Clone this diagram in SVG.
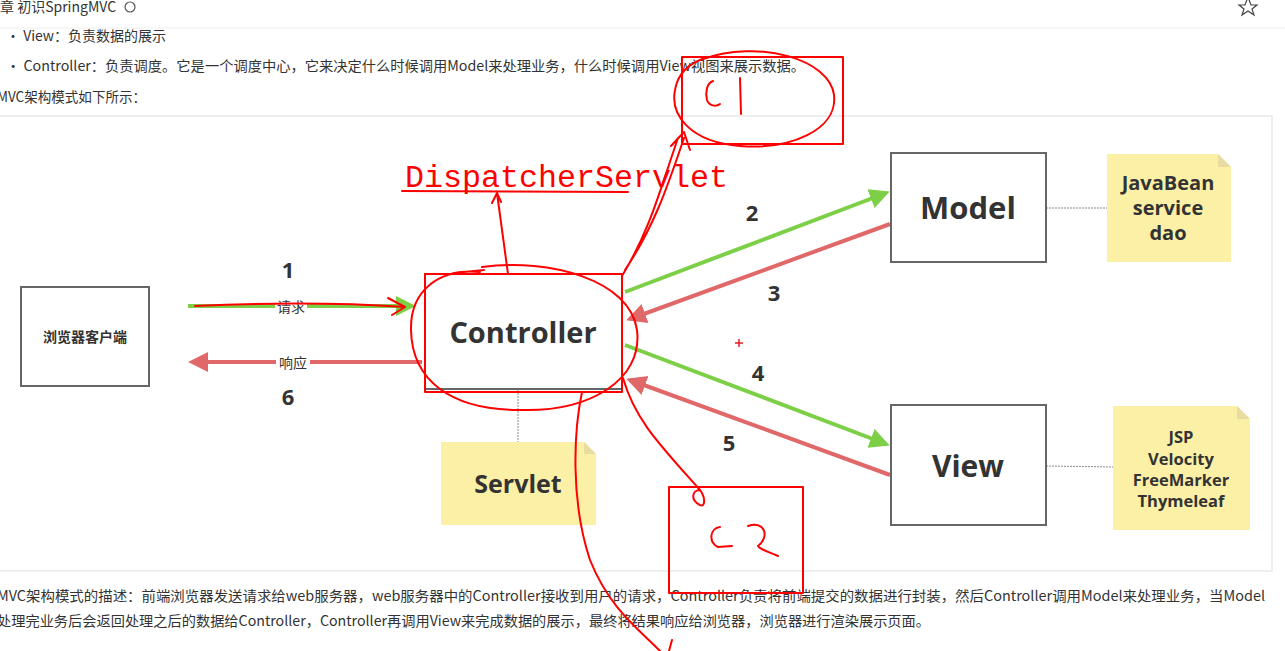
<svg xmlns="http://www.w3.org/2000/svg" width="1285" height="651" viewBox="0 0 1285 651">
<defs>
<style>
.doc{font-family:"Noto Sans CJK SC","Liberation Sans",sans-serif;font-size:14px;fill:#333}
.box{fill:#fff;stroke:#666;stroke-width:2}
.lbl{font-family:"Open Sans","Noto Sans","Noto Sans CJK SC",sans-serif;font-weight:bold;fill:#333;text-anchor:middle}
.num{font-family:"Open Sans","Noto Sans",sans-serif;font-weight:bold;font-size:22px;fill:#333;text-anchor:middle}
.note{fill:#fbf0a6}
.fold{fill:#e8dca0}
.dot{stroke:#888;stroke-width:1;stroke-dasharray:2 1;fill:none}
.g{stroke:#7ccf46;stroke-width:4;fill:none}
.r{stroke:#e06868;stroke-width:4;fill:none}
.hand{stroke:#ff0000;stroke-width:2;fill:none;stroke-linecap:round;stroke-linejoin:round}
</style>
<marker id="ag" markerWidth="6" markerHeight="6" refX="4" refY="3" orient="auto" markerUnits="strokeWidth"><path d="M0,0.5 L5,3 L0,5.5 z" fill="#7ccf46"/></marker>
<marker id="ar" markerWidth="6" markerHeight="6" refX="4" refY="3" orient="auto" markerUnits="strokeWidth"><path d="M0,0.5 L5,3 L0,5.5 z" fill="#e06868"/></marker>
</defs>
<rect width="1285" height="651" fill="#fff"/>
<!-- header -->
<text class="doc" x="0" y="12" font-size="13" fill="#555">章 初识SpringMVC</text>
<circle cx="130" cy="7" r="5" fill="none" stroke="#555" stroke-width="1.2"/>
<path d="M1248,0 L1251,8 L1257,8 L1252,12 L1254,18 L1248,14 L1242,18 L1244,12 L1239,8 L1245,8 Z" fill="none" stroke="#444" stroke-width="1.2" transform="translate(0,-3)"/>
<line x1="0" y1="28" x2="1285" y2="28" stroke="#eee"/>
<text class="doc" x="6" y="41" textLength="160" lengthAdjust="spacingAndGlyphs">·  View：负责数据的展示</text>
<text class="doc" x="6" y="71" textLength="799" lengthAdjust="spacingAndGlyphs">·  Controller：负责调度。它是一个调度中心，它来决定什么时候调用Model来处理业务，什么时候调用View视图来展示数据。</text>
<text class="doc" x="-3" y="102" textLength="149" lengthAdjust="spacingAndGlyphs">MVC架构模式如下所示：</text>
<!-- panel -->
<rect x="-2" y="116" width="1274" height="455" fill="#fff" stroke="#eee" stroke-width="2"/>
<!-- connectors -->
<g id="connectors">
<line class="g" x1="188" y1="306" x2="412" y2="306" marker-end="url(#ag)"/>
<line class="r" x1="422" y1="362" x2="192" y2="362" marker-end="url(#ar)"/>
<line class="g" x1="625" y1="292" x2="886" y2="193" marker-end="url(#ag)"/>
<line class="r" x1="890" y1="224" x2="630" y2="319" marker-end="url(#ar)"/>
<line class="g" x1="625" y1="345" x2="886" y2="444" marker-end="url(#ag)"/>
<line class="r" x1="890" y1="475" x2="630" y2="380" marker-end="url(#ar)"/>
<line class="dot" x1="518" y1="390" x2="518" y2="442"/>
<line class="dot" x1="1046" y1="208" x2="1107" y2="208"/>
<line class="dot" x1="1046" y1="466" x2="1113" y2="467"/>
<rect x="275" y="299" width="32" height="16" fill="#fff"/>
<text class="doc" x="291" y="312" text-anchor="middle" fill="#888">请求</text>
<rect x="276" y="355" width="34" height="16" fill="#fff"/>
<text class="doc" x="293" y="368" text-anchor="middle" fill="#777">响应</text>
<text class="num" x="288" y="278">1</text>
<text class="num" x="288" y="405">6</text>
<text class="num" x="752" y="221">2</text>
<text class="num" x="774" y="301">3</text>
<text class="num" x="758" y="381">4</text>
<text class="num" x="729" y="451">5</text>
</g>
<!-- nodes -->
<g id="browser"><rect class="box" x="21" y="287" width="128" height="99"/><text class="lbl" x="85" y="342" font-size="14">浏览器客户端</text></g>
<g id="controller"><rect class="box" x="425" y="274" width="197" height="115"/><text class="lbl" x="523" y="343" font-size="29">Controller</text></g>
<g id="model"><rect class="box" x="891" y="153" width="155" height="109"/><text class="lbl" x="968" y="219" font-size="31">Model</text></g>
<g id="view"><rect class="box" x="891" y="405" width="155" height="120"/><text class="lbl" x="968" y="477" font-size="30">View</text></g>
<g id="note-model"><path class="note" d="M1107,154 L1218,154 L1231,167 L1231,262 L1107,262 Z"/><path class="fold" d="M1218,154 L1231,167 L1218,167 Z"/>
<text class="lbl" font-size="20"><tspan x="1168" y="190">JavaBean</tspan><tspan x="1168" y="215">service</tspan><tspan x="1168" y="240">dao</tspan></text></g>
<g id="note-view"><path class="note" d="M1113,406 L1237,406 L1250,419 L1250,530 L1113,530 Z"/><path class="fold" d="M1237,406 L1250,419 L1237,419 Z"/>
<text class="lbl" font-size="16.5"><tspan x="1181" y="443">JSP</tspan><tspan x="1181" y="465">Velocity</tspan><tspan x="1181" y="486">FreeMarker</tspan><tspan x="1181" y="507">Thymeleaf</tspan></text></g>
<g id="servlet"><path class="note" d="M441,442 L584,442 L596,454 L596,525 L441,525 Z"/><path class="fold" d="M584,442 L596,454 L584,454 Z"/><text class="lbl" x="518" y="493" font-size="25">Servlet</text></g>
<path d="M735,343 h8 M739,339 v8" stroke="#e02020" stroke-width="1.5"/>
<!-- bottom text -->
<text class="doc" x="-3" y="601" textLength="1268" lengthAdjust="spacingAndGlyphs">MVC架构模式的描述：前端浏览器发送请求给web服务器，web服务器中的Controller接收到用户的请求，Controller负责将前端提交的数据进行封装，然后Controller调用Model来处理业务，当Model</text>
<text class="doc" x="-3" y="626" textLength="933" lengthAdjust="spacingAndGlyphs">处理完业务后会返回处理之后的数据给Controller，Controller再调用View来完成数据的展示，最终将结果响应给浏览器，浏览器进行渲染展示页面。</text>
<!-- hand annotations -->
<g id="annotations">
<text x="405" y="187" font-family="Liberation Mono, monospace" font-size="31" fill="#ff0000" textLength="323" lengthAdjust="spacingAndGlyphs">DispatcherServlet</text>
<path class="hand" d="M402,191 L628,192"/>
<path class="hand" d="M508,274 L497,193 M492,203 L497,193 L501,202"/>
<rect class="hand" x="425" y="274" width="197" height="118"/>
<path class="hand" d="M482,267 C550,258 630,280 637,330 C643,380 590,412 520,410 C450,410 412,380 411,330 C410,290 440,268 480,272 M464,272 L484,270"/>
<path class="hand" d="M195,306 C260,303 330,302 405,307 M388,298 L405,307 L392,315"/>
<rect class="hand" x="682" y="57" width="161" height="87"/>
<path class="hand" d="M700,60 C760,38 830,60 834,95 C838,130 790,150 740,146 C690,142 670,115 675,90 C678,72 690,63 705,58"/>
<path class="hand" d="M713,81 C707,83 705,92 707,100 C709,106 716,107 720,104 M740,78 L741,114"/>
<path class="hand" d="M622,276 C650,230 660,190 678,138 M625,270 C655,225 668,185 684,138 M671,146 L684,132 L690,150"/>
<rect class="hand" x="669" y="487" width="134" height="106"/>
<path class="hand" d="M623,378 C635,420 660,445 700,490 C706,498 705,508 700,505 C690,500 692,490 700,490"/>
<path class="hand" d="M720,527 C710,528 708,542 718,547 L732,546 M748,526 C765,520 770,537 758,546 C760,550 770,552 778,556"/>
<path class="hand" d="M582,392 C574,430 570,500 590,560 C610,610 640,630 660,651"/>
<path class="hand" d="M669,651 L672,640"/>
</g>
</svg>
